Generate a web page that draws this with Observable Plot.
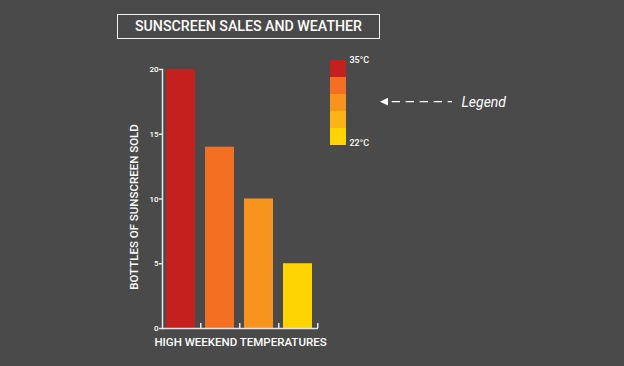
<!DOCTYPE html>
<html><head><meta charset="utf-8">
<script src="https://cdn.jsdelivr.net/npm/d3@7"></script>
<script src="https://cdn.jsdelivr.net/npm/@observablehq/plot@0.6"></script>
<style>
html,body{margin:0;padding:0;background:#4a4a4a;}
#wrap{position:relative;width:624px;height:366px;background:#4a4a4a;overflow:hidden;font-family:Roboto,"DejaVu Sans",sans-serif;}
#title{position:absolute;left:117px;top:14px;width:261px;height:23px;border:1.5px solid #f2f2f2;color:#fff;font-size:14.2px;line-height:23px;text-align:center;font-weight:500;white-space:nowrap;}
#chart,#legend{position:absolute;left:0;top:0;}
#legend{left:320px;top:50px;}
</style></head><body>
<div id="wrap"><div id="title"></div><div id="chart"></div><div id="legend"></div></div>
<script>
const title = "SUNSCREEN SALES AND WEATHER";
const categories = ["35°C", "30°C", "26°C", "22°C"];
const sales = [20, 14, 10, 5];
const barColors = ["#c4201d", "#f36f21", "#f7941d", "#ffd400"];
const yTicks = [0, 5, 10, 15, 20];
const yLabel = "BOTTLES OF SUNSCREEN SOLD";
const xLabel = "HIGH WEEKEND TEMPERATURES";
const legendColors = ["#c4201d", "#f36f21", "#f7941d", "#fbb316", "#ffd400"];
const legendLabels = ["35°C", "22°C"];
const legendNote = "Legend";

document.getElementById("title").textContent = title;

const data = categories.map((c, i) => ({cat: c, value: sales[i], color: barColors[i]}));
const axisColor = "#e6e6e6";
const font = "Roboto, 'DejaVu Sans', sans-serif";

const chart = Plot.plot({
  width: 624, height: 366,
  marginLeft: 162, marginRight: 306, marginTop: 69, marginBottom: 38,
  style: {background: "transparent", color: "#fff", fontFamily: font, overflow: "visible"},
  x: {domain: categories, paddingInner: 0.266, paddingOuter: 0.1076, align: 0.35, axis: null},
  y: {domain: [0, 20], axis: null},
  marks: [
    Plot.barY(data, {x: "cat", y: "value", fill: "color"}),
    Plot.frame({anchor: "left", stroke: axisColor, strokeWidth: 1.5}),
    Plot.ruleY([0], {stroke: axisColor, strokeWidth: 1.5}),
    Plot.ruleX(categories, {x: d => d, dx: 19.75, insetTop: 254, stroke: axisColor, strokeWidth: 1.5}),
    Plot.axisY({ticks: yTicks, tickSize: 3, tickPadding: 1, fontSize: 8, fontWeight: 500, stroke: axisColor, strokeWidth: 1.5, label: null}),
    Plot.text([yLabel], {frameAnchor: "left", textAnchor: "middle", rotate: -90, dx: -28, dy: 8, fontSize: 11.5, fontWeight: 500, fill: "#fff"}),
    Plot.text([xLabel], {frameAnchor: "bottom", dy: 17, fontSize: 11.5, fontWeight: 500, fill: "#fff"})
  ]
});
document.getElementById("chart").append(chart);

const steps = legendColors.map((c, i) => ({i, color: c}));
const last = legendColors.length - 1;
const legend = Plot.plot({
  width: 200, height: 110, margin: 0,
  style: {background: "transparent", color: "#fff", fontFamily: font, overflow: "visible"},
  x: {domain: ["s"], range: [10, 26], padding: 0, axis: null},
  y: {domain: d3.range(legendColors.length), range: [9, 95], padding: 0, axis: null},
  marks: [
    Plot.cell(steps, {x: () => "s", y: "i", fill: "color"}),
    Plot.text([legendLabels[0]], {x: () => "s", y: () => 0, dx: 11, dy: -9, textAnchor: "start", fontSize: 9, fontWeight: 500, fill: "#fff"}),
    Plot.text([legendLabels[1]], {x: () => "s", y: () => last, dx: 11, dy: 6, textAnchor: "start", fontSize: 9, fontWeight: 500, fill: "#fff"})
  ]
});
document.getElementById("legend").append(legend);
const svg = d3.select(legend);
const g = svg.append("g");
g.append("path").attr("d", "M60,51.7 L68,47.8 L68,55.6 Z").attr("fill", "#fff");
g.append("line").attr("x1", 71.7).attr("x2", 132).attr("y1", 51.7).attr("y2", 51.7)
  .attr("stroke", "#fff").attr("stroke-width", 1.3).attr("stroke-dasharray", "8.3,5.7");
g.append("text").attr("x", 141.5).attr("y", 51.7).attr("dy", "0.35em").attr("text-anchor", "start")
  .attr("font-style", "italic").attr("font-size", 14).attr("fill", "#fff").text(legendNote);
</script>
</body></html>
